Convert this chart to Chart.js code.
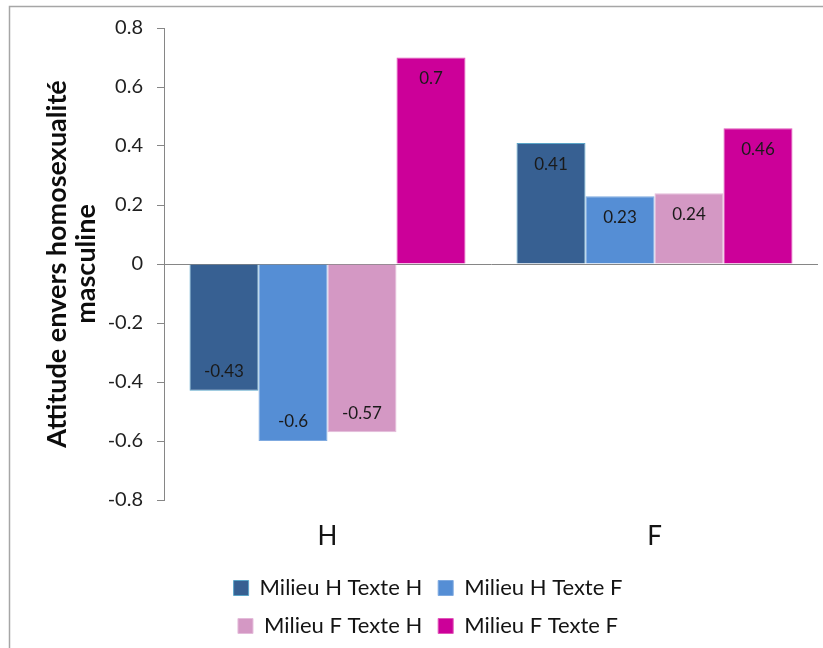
<!DOCTYPE html>
<html><head><meta charset="utf-8">
<script src="https://cdn.jsdelivr.net/npm/chart.js@4"></script>
<style>html,body{margin:0;padding:0;background:#fff;} canvas{display:block;}</style>
</head><body>
<canvas id="c" width="823" height="648"></canvas>
<script>
// ---- data ----
const categories = ['H', 'F'];
const seriesNames = ['Milieu H Texte H', 'Milieu H Texte F', 'Milieu F Texte H', 'Milieu F Texte F'];
const milieuHTexteH = [-0.43, 0.41];
const milieuHTexteF = [-0.6, 0.23];
const milieuFTexteH = [-0.57, 0.24];
const milieuFTexteF = [0.7, 0.46];
const yTickValues = [-0.8, -0.6, -0.4, -0.2, 0, 0.2, 0.4, 0.6, 0.8];
const yTitle = ['Attitude envers homosexualité', 'masculine'];

// ---- styles ----
const fills = ['#376092', '#558ED5', '#D498C4', '#CC0099'];
const borders = ['#5AA5C8', '#7FAAE0', '#E4BCDA', '#E055B8'];
const FONT = 'Lato';
const LEG_W = 500, LEG_CX = 428;

const seriesValues = [milieuHTexteH, milieuHTexteF, milieuFTexteH, milieuFTexteF];

const framePlugin = {
  id: 'frame',
  beforeDraw(chart) {
    const c = chart.ctx;
    c.save();
    c.fillStyle = '#ffffff';
    c.fillRect(0, 0, chart.width, chart.height);
    c.strokeStyle = '#a6a6a6';
    c.lineWidth = 1.5;
    c.beginPath();
    c.moveTo(9.5, chart.height);
    c.lineTo(9.5, 6.5);
    c.lineTo(chart.width, 6.5);
    c.stroke();
    c.restore();
  }
};

const valueLabels = {
  id: 'valueLabels',
  afterDatasetsDraw(chart) {
    const c = chart.ctx;
    c.save();
    c.font = '17px ' + FONT;
    c.fillStyle = '#1a1a1a';
    c.textAlign = 'center';
    c.textBaseline = 'middle';
    chart.data.datasets.forEach((ds, di) => {
      const meta = chart.getDatasetMeta(di);
      meta.data.forEach((bar, i) => {
        const v = ds.data[i];
        const y = v >= 0 ? bar.y + 21 : bar.y - 19;
        c.fillText(String(v), bar.x, y);
      });
    });
    c.restore();
  }
};

const legendRows = {
  id: 'legendRows',
  afterInit(chart) {
    const lg = chart.legend;
    const orig = lg.update;
    lg.update = function (mw, mh, m) { return orig.call(this, Math.min(mw, LEG_W), mh, m); };
  },
  afterLayout(chart) {
    const lg = chart.legend;
    lg.left = LEG_CX - LEG_W / 2;
    lg.right = LEG_CX + LEG_W / 2;
    lg.width = LEG_W;
  }
};

new Chart(document.getElementById('c'), {
  type: 'bar',
  data: {
    labels: categories,
    datasets: seriesNames.map((name, i) => ({
      label: name,
      data: seriesValues[i],
      backgroundColor: fills[i],
      borderColor: borders[i],
      borderWidth: 1,
      barPercentage: 1,
      categoryPercentage: 0.844
    }))
  },
  options: {
    responsive: false,
    animation: false,
    devicePixelRatio: 1,
    layout: { padding: { left: 10, right: 5, top: 28, bottom: 1 } },
    plugins: {
      legend: {
        position: 'bottom',
        labels: {
          font: { family: FONT, size: 22 },
          color: '#141414',
          boxWidth: 15,
          boxHeight: 15,
          padding: 16
        }
      },
      tooltip: { enabled: false }
    },
    scales: {
      x: {
        grid: { display: false },
        border: { display: false },
        ticks: { font: { family: FONT, size: 26 }, color: '#141414', padding: 13 },
        afterFit(s) { s.height = 61; }
      },
      y: {
        min: -0.8,
        max: 0.8,
        afterBuildTicks(s) { s.ticks = yTickValues.map(v => ({ value: v })); },
        afterFit(s) { s.width = 154; },
        border: { display: true, color: '#868686', width: 1 },
        grid: {
          drawOnChartArea: true,
          color: ctx => (ctx.tick && ctx.tick.value === 0) ? '#868686' : 'rgba(0,0,0,0)',
          tickColor: '#868686',
          tickLength: 7,
          lineWidth: 1
        },
        ticks: {
          font: { family: FONT, size: 20 },
          color: '#1f1f1f',
          padding: 14,
          callback: v => String(v)
        },
        title: {
          display: true,
          text: yTitle,
          color: '#0d0d0d',
          font: { family: FONT, size: 27, weight: 'bold', lineHeight: '29px' },
          padding: { top: 33, bottom: 0 }
        }
      }
    }
  },
  plugins: [framePlugin, valueLabels, legendRows]
});
</script>
</body></html>
